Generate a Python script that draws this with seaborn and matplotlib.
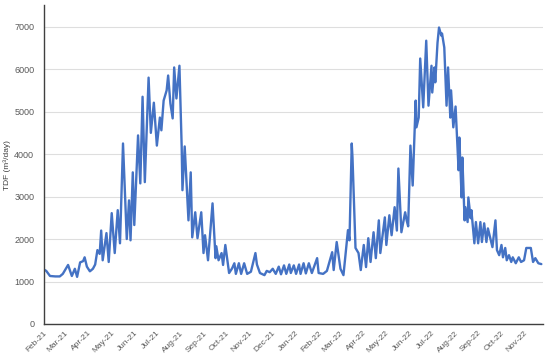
import matplotlib
matplotlib.use("Agg")
import matplotlib.pyplot as plt
import matplotlib.dates as mdates
import pandas as pd
import seaborn as sns

# Daily flow (peaks and troughs)
dates = [
    "2021-02-01", "2021-02-04", "2021-02-09", "2021-02-16", "2021-02-22", "2021-02-26",
    "2021-03-05", "2021-03-10", "2021-03-14", "2021-03-17", "2021-03-21", "2021-03-25",
    "2021-03-27", "2021-03-30", "2021-04-03", "2021-04-07", "2021-04-10", "2021-04-13",
    "2021-04-16", "2021-04-18", "2021-04-20", "2021-04-25", "2021-04-28", "2021-05-02",
    "2021-05-06", "2021-05-10", "2021-05-13", "2021-05-17", "2021-05-22", "2021-05-25",
    "2021-05-27", "2021-05-30", "2021-06-01", "2021-06-06", "2021-06-09", "2021-06-12",
    "2021-06-15", "2021-06-20", "2021-06-23", "2021-06-27", "2021-07-01", "2021-07-05",
    "2021-07-07", "2021-07-10", "2021-07-14", "2021-07-16", "2021-07-19", "2021-07-22",
    "2021-07-24", "2021-07-27", "2021-07-31", "2021-08-03", "2021-08-04", "2021-08-07",
    "2021-08-12", "2021-08-15", "2021-08-17", "2021-08-21", "2021-08-24", "2021-08-29",
    "2021-09-01", "2021-09-03", "2021-09-07", "2021-09-13", "2021-09-17", "2021-09-18",
    "2021-09-21", "2021-09-25", "2021-09-27", "2021-09-30", "2021-10-05", "2021-10-09",
    "2021-10-12", "2021-10-14", "2021-10-18", "2021-10-21", "2021-10-25", "2021-10-29",
    "2021-11-03", "2021-11-09", "2021-11-11", "2021-11-15", "2021-11-21", "2021-11-24",
    "2021-11-28", "2021-12-02", "2021-12-06", "2021-12-10", "2021-12-13", "2021-12-17",
    "2021-12-20", "2021-12-24", "2021-12-26", "2021-12-30", "2022-01-02", "2022-01-06",
    "2022-01-08", "2022-01-12", "2022-01-15", "2022-01-19", "2022-01-23", "2022-01-30",
    "2022-02-01", "2022-02-07", "2022-02-12", "2022-02-19", "2022-02-21", "2022-02-25",
    "2022-03-02", "2022-03-06", "2022-03-12", "2022-03-14", "2022-03-17", "2022-03-18",
    "2022-03-22", "2022-03-26", "2022-03-29", "2022-04-02", "2022-04-05", "2022-04-08",
    "2022-04-11", "2022-04-15", "2022-04-18", "2022-04-22", "2022-04-24", "2022-04-30",
    "2022-05-02", "2022-05-06", "2022-05-09", "2022-05-13", "2022-05-16", "2022-05-18",
    "2022-05-22", "2022-05-27", "2022-05-29", "2022-05-31", "2022-06-03", "2022-06-06",
    "2022-06-10", "2022-06-11", "2022-06-14", "2022-06-16", "2022-06-20", "2022-06-24",
    "2022-06-27", "2022-07-01", "2022-07-02", "2022-07-05", "2022-07-06", "2022-07-09",
    "2022-07-11", "2022-07-14", "2022-07-15", "2022-07-18", "2022-07-21", "2022-07-23",
    "2022-07-26", "2022-07-27", "2022-07-30", "2022-08-02", "2022-08-06", "2022-08-07",
    "2022-08-10", "2022-08-11", "2022-08-14", "2022-08-15", "2022-08-18", "2022-08-19",
    "2022-08-22", "2022-08-23", "2022-08-27", "2022-08-29", "2022-09-01", "2022-09-04",
    "2022-09-06", "2022-09-09", "2022-09-12", "2022-09-14", "2022-09-20", "2022-09-24",
    "2022-09-26", "2022-09-29", "2022-10-02", "2022-10-04", "2022-10-07", "2022-10-09",
    "2022-10-12", "2022-10-15", "2022-10-17", "2022-10-21", "2022-10-25", "2022-10-28",
    "2022-11-01", "2022-11-04", "2022-11-10", "2022-11-13", "2022-11-16", "2022-11-20",
    "2022-11-24",
]
tdf = [
    1280, 1250, 1130, 1120, 1120, 1180,
    1390, 1130, 1300, 1110, 1450, 1480,
    1570, 1350, 1240, 1300, 1400, 1740,
    1650, 2200, 1500, 2140, 1460, 2610,
    1670, 2680, 1900, 4250, 2000, 2910,
    1970, 3570, 2330, 4440, 3310, 5350,
    3340, 5800, 4500, 5210, 4200, 4860,
    4560, 5260, 5500, 5850, 5190, 4840,
    6040, 5310, 6080, 4160, 3150, 4180,
    2440, 3570, 2040, 2630, 2020, 2630,
    1670, 2090, 1500, 2840, 1550, 1830,
    1500, 1670, 1390, 1860, 1200, 1310,
    1430, 1180, 1430, 1180, 1430, 1180,
    1230, 1670, 1400, 1200, 1150, 1250,
    1220, 1300, 1180, 1350, 1170, 1380,
    1180, 1400, 1200, 1380, 1180, 1400,
    1180, 1430, 1190, 1430, 1200, 1550,
    1200, 1180, 1250, 1690, 1270, 1930,
    1300, 1150, 2210, 1970, 4250, 3920,
    1790, 1670, 1270, 1860, 1340, 2020,
    1460, 2160, 1550, 2440, 1670, 2510,
    1860, 2560, 2090, 2750, 2200, 3660,
    2160, 2630, 2440, 2300, 4200, 3260,
    5260, 4630, 4860, 6250, 5100, 6670,
    5140, 6080, 5450, 6040, 5690, 6620,
    6980, 6790, 6840, 6510, 5140, 6040,
    4860, 5500, 4630, 5120, 3620, 4390,
    2980, 3920, 2440, 2750, 2400, 2980,
    2490, 2680, 1900, 2400, 1900, 2400,
    1930, 2370, 1930, 2250, 1810, 2440,
    1740, 1620, 1860, 1570, 1790, 1500,
    1620, 1460, 1570, 1430, 1570, 1460,
    1500, 1790, 1790, 1460, 1550, 1430,
    1410,
]
y_ticks = [0, 1000, 2000, 3000, 4000, 5000, 6000, 7000]

df = pd.DataFrame({"date": pd.to_datetime(dates), "tdf": tdf})

sns.set_style("white")
plt.rcParams["font.family"] = ["Liberation Sans", "DejaVu Sans"]

fig = plt.figure(figsize=(5.5, 3.62), dpi=100)
ax = fig.add_axes([0.08, 0.105, 0.907, 0.88])

sns.lineplot(data=df, x="date", y="tdf", ax=ax, color="#4472C4", linewidth=1.7)

ax.set_ylim(0, 7500)
ax.set_yticks(y_ticks)
ax.set_xlim(pd.Timestamp("2021-02-01"), pd.Timestamp("2022-11-26"))
ax.xaxis.set_major_locator(mdates.MonthLocator())
ax.xaxis.set_major_formatter(mdates.DateFormatter("%b-%y"))

ax.grid(axis="y", color="#dedede", linewidth=0.8)
ax.set_axisbelow(True)
for side in ["top", "right"]:
    ax.spines[side].set_visible(False)
for side in ["left", "bottom"]:
    ax.spines[side].set_color("#404040")
    ax.spines[side].set_linewidth(1.0)

ax.tick_params(axis="y", length=0, labelsize=6.5, labelcolor="#595959", pad=7)
ax.tick_params(axis="x", length=3, width=0.8, color="#404040", direction="out",
               labelsize=6, labelcolor="#595959", pad=1)
plt.setp(ax.get_xticklabels(), rotation=45, ha="right", rotation_mode="anchor")

ax.set_xlabel("")
ax.set_ylabel("TDF (m³/day)", fontsize=6, color="#404040")
ax.yaxis.set_label_coords(-0.066, 0.5)

fig.savefig("out.png", dpi=100)
